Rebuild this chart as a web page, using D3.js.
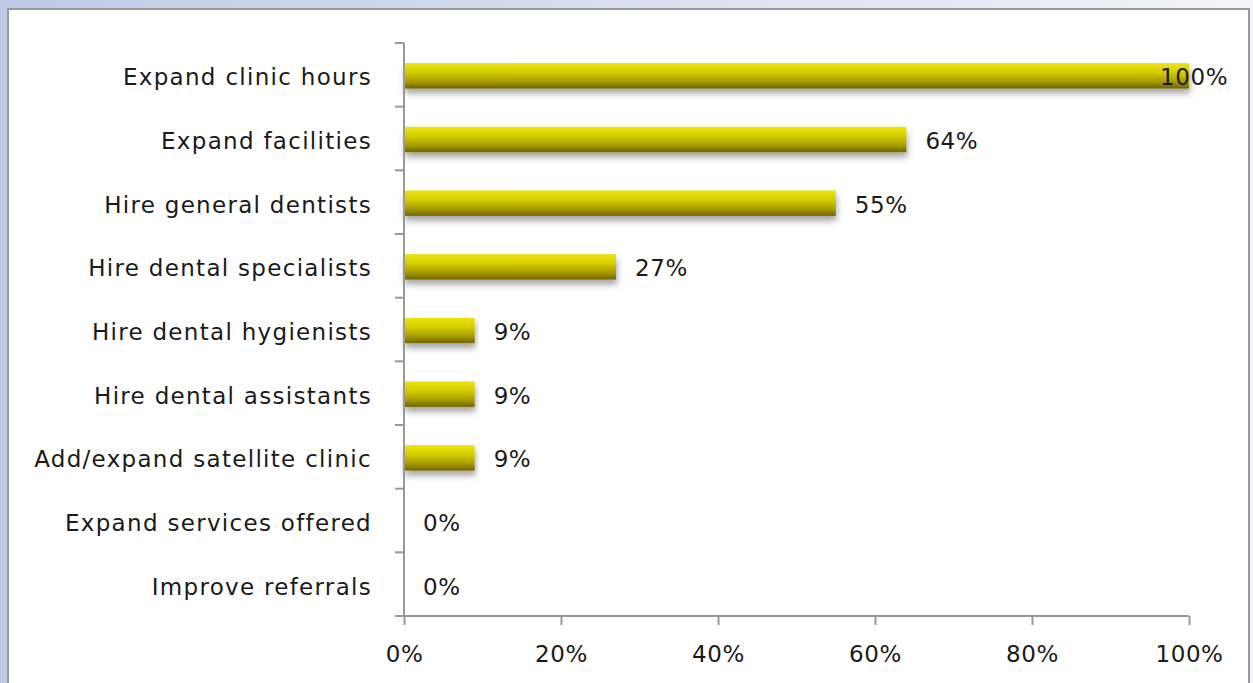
<!DOCTYPE html>
<html>
<head>
<meta charset="utf-8">
<script src="https://cdn.jsdelivr.net/npm/d3@7"></script>
<style>
  body { margin: 0; overflow: hidden; }
  svg text { font-family: "DejaVu Sans", sans-serif; fill: #1a1a1a; }
</style>
</head>
<body>
<div id="chart"></div>
<script>
// categories and values
var categories = [
  'Expand clinic hours',
  'Expand facilities',
  'Hire general dentists',
  'Hire dental specialists',
  'Hire dental hygienists',
  'Hire dental assistants',
  'Add/expand satellite clinic',
  'Expand services offered',
  'Improve referrals'
];
var shares = [1.00, 0.64, 0.55, 0.27, 0.09, 0.09, 0.09, 0, 0];
var xTicks = [0, 0.2, 0.4, 0.6, 0.8, 1.0];

var W = 1253, H = 683;
var plotLeft = 404, plotRight = 1189, plotTop = 43, plotBottom = 616;

var $svg = d3.select('#chart').append('svg')
    .attr('width', W).attr('height', H);

var defs = $svg.append('defs');

var bg = defs.append('linearGradient').attr('id', 'bg')
    .attr('x1', 0).attr('x2', 1).attr('y1', 0).attr('y2', 0);
bg.append('stop').attr('offset', '0%').attr('stop-color', '#bfcae4');
bg.append('stop').attr('offset', '100%').attr('stop-color', '#f2f4f9');

var barFill = defs.append('linearGradient').attr('id', 'barFill')
    .attr('x1', 0).attr('x2', 0).attr('y1', 0).attr('y2', 1);
barFill.append('stop').attr('offset', '0%').attr('stop-color', '#ece410');
barFill.append('stop').attr('offset', '35%').attr('stop-color', '#d6ce00');
barFill.append('stop').attr('offset', '70%').attr('stop-color', '#aaa000');
barFill.append('stop').attr('offset', '100%').attr('stop-color', '#716500');

var shadow = defs.append('filter').attr('id', 'shadow')
    .attr('x', '-5%').attr('y', '-30%').attr('width', '110%').attr('height', '180%');
shadow.append('feDropShadow').attr('dx', 1).attr('dy', 5)
    .attr('stdDeviation', 3).attr('flood-color', '#000').attr('flood-opacity', 0.35);

// page background and white panel
$svg.append('rect').attr('width', W).attr('height', H).style('fill', 'url(#bg)');
$svg.append('rect')
    .attr('x', 8).attr('y', 9).attr('width', 1241).attr('height', H)
    .style('fill', '#fff').style('stroke', '#9a9a9a').style('stroke-width', 2);

var x = d3.scaleLinear().domain([0, 1]).range([plotLeft, plotRight]);
var y = d3.scaleBand().domain(categories).range([plotTop, plotBottom])
    .paddingInner(0.6).paddingOuter(0.3);

// bars
$svg.selectAll('rect.bar')
    .data(shares)
    .enter()
    .append('rect')
    .attr('class', 'bar')
    .attr('x', x(0))
    .attr('y', function(d, i) { return y(categories[i]) + 1; })
    .attr('width', function(d) { return x(d) - x(0); })
    .attr('height', y.bandwidth())
    .attr('filter', 'url(#shadow)')
    .style('fill', 'url(#barFill)')
    .style('display', function(d) { return d > 0 ? null : 'none'; });

// value labels
var fmt = d3.format('.0%');
$svg.selectAll('text.val')
    .data(shares)
    .enter()
    .append('text')
    .attr('class', 'val')
    .attr('x', function(d) { return Math.min(x(d) + 19, 1160); })
    .attr('y', function(d, i) { return y(categories[i]) + y.bandwidth() / 2; })
    .attr('dy', '0.45em')
    .style('font-size', '23px')
    .style('letter-spacing', '0.6px')
    .text(function(d) { return fmt(d); });

// y axis: labels from d3.axisLeft, line and ticks between bands
var yAxis = $svg.append('g')
    .attr('transform', 'translate(' + plotLeft + ',0)')
    .call(d3.axisLeft(y).tickSize(0).tickPadding(32));
yAxis.select('.domain').remove();
yAxis.selectAll('text')
    .style('font-size', '23px')
    .style('letter-spacing', '1.3px')
    .attr('dy', '0.45em');

var step = y.step();
var gridY = d3.range(categories.length + 1).map(function(k) { return plotTop + k * step; });
$svg.append('line')
    .attr('x1', plotLeft).attr('x2', plotLeft).attr('y1', plotTop).attr('y2', plotBottom)
    .style('stroke', '#999').style('stroke-width', 2);
$svg.selectAll('line.ytick')
    .data(gridY)
    .enter()
    .append('line')
    .attr('class', 'ytick')
    .attr('x1', plotLeft - 9).attr('x2', plotLeft)
    .attr('y1', function(d) { return d; }).attr('y2', function(d) { return d; })
    .style('stroke', '#999').style('stroke-width', 2);

// x axis
var xAxis = $svg.append('g')
    .attr('transform', 'translate(0,' + plotBottom + ')')
    .call(d3.axisBottom(x).tickValues(xTicks).tickFormat(fmt)
        .tickSize(9).tickSizeOuter(0).tickPadding(21));
xAxis.select('.domain').remove();
xAxis.selectAll('.tick line').style('stroke', '#999').style('stroke-width', 2);
xAxis.selectAll('text').style('font-size', '23px').style('letter-spacing', '0.6px');
$svg.append('line')
    .attr('x1', plotLeft - 9).attr('x2', plotRight).attr('y1', plotBottom).attr('y2', plotBottom)
    .style('stroke', '#999').style('stroke-width', 2);
</script>
</body>
</html>
